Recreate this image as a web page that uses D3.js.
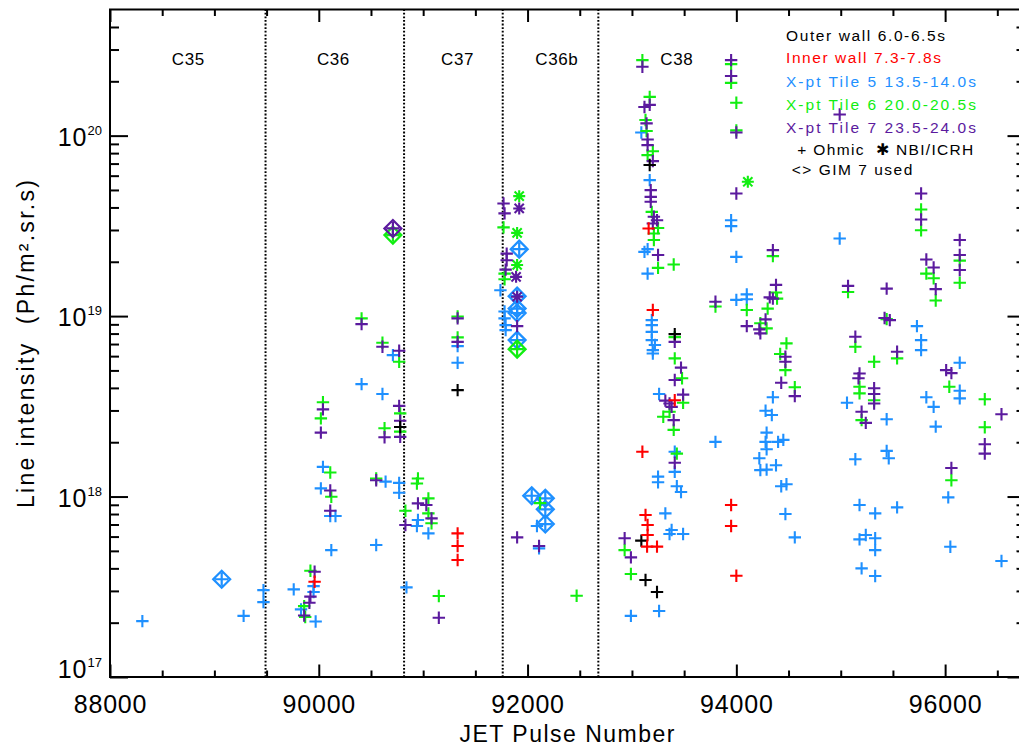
<!DOCTYPE html>
<html><head><meta charset="utf-8">
<script src="https://cdn.jsdelivr.net/npm/d3@7"></script>
<style>body{margin:0;background:#fff}text{white-space:pre}</style>
</head><body><svg id="c" width="1019" height="748"></svg>
<script>
// ---------------- data ----------------
const pulseRange = [88000, 96770];
const intensityRange = [1e17, 5e20];
const xMajorTicks = [88000, 90000, 92000, 94000, 96000];
const yMajorTicks = [1e17, 1e18, 1e19, 1e20];
const campaignLabels = ["C35", "C36", "C37", "C36b", "C38"];
const campaignLabelPulse = [88750, 90140, 91330, 92280, 93430];
const campaignBoundaries = [89490, 90817, 91762, 92678];
const legendLabels = ["Outer wall 6.0-6.5s", "Inner wall 7.3-7.8s", "X-pt Tile 5 13.5-14.0s", "X-pt Tile 6 20.0-20.5s", "X-pt Tile 7 23.5-24.0s"];
const markerLegend = ["+ Ohmic  \u2731 NBI/ICRH", "<> GIM 7 used"];
const xTitle = "JET Pulse Number";
const yTitle = "Line intensity  (Ph/m\u00B2.sr.s)";

const outerOhmic = [[90780,2.43e18],[91330,3.89e18],[93170,6.87e19],[93410,7.94e18],[93090,5.70e17],[93130,3.45e17],[93240,2.96e17]];
const innerOhmic = [[89960,3.37e17],[91330,6.25e17],[91330,5.32e17],[91330,4.45e17],[93200,1.08e19],[93410,3.42e18],[93100,1.77e18],[93130,7.90e17],[93150,6.95e17],[93150,6.12e17],[93145,5.28e17],[93240,5.28e17],[93160,3.06e19],[93950,8.97e17],[93950,6.87e17],[94000,3.64e17]];
const tile5Ohmic = [
[88310,2.04e17],[89280,2.18e17],[89470,3.03e17],[89470,2.60e17],[89760,3.06e17],[89830,2.37e17],[89950,3.19e17],[89950,2.96e17],[89970,2.03e17],[90020,1.11e18],[90110,7.80e17],[90160,7.80e17],[90120,5.05e17],[90040,1.46e18],
[90410,4.20e18],[90610,3.70e18],[90710,6.08e18],[90640,1.21e18],[90770,1.19e18],[90770,1.05e18],[90550,5.39e17],[90840,3.14e17],[90950,7.41e17],[90940,6.87e17],[91050,6.25e17],
[91330,6.82e18],[91330,5.51e18],
[91740,1.39e19],[91780,1.06e19],[91780,9.71e18],[91790,8.91e18],[91790,8.36e18],[92090,6.87e17],[92110,5.16e17],
[93090,1.04e20],[93170,5.67e19],[93120,2.27e19],[93150,2.35e19],[93150,1.72e19],[93190,9.50e18],[93190,8.91e18],[93190,8.18e18],[93190,7.36e18],[93220,6.91e18],[93200,6.48e18],[93200,6.21e18],[93260,3.70e18],[93410,1.77e18],[93410,1.37e18],[93250,1.29e18],[93250,1.20e18],[93430,1.14e18],[93470,1.06e18],[93320,8.07e17],[93380,6.52e17],[93360,6.20e17],[93490,6.20e17],[93260,2.32e17],[92990,2.18e17],
[93800,2.01e18],[93950,3.40e19],[93950,3.15e19],[94000,2.13e19],[94000,1.23e19],[94100,1.32e19],[94100,1.24e19],
[94350,3.55e18],[94280,2.99e18],[94340,2.83e18],[94290,2.26e18],[94280,2.01e18],[94290,1.83e18],[94400,2.01e18],[94450,2.06e18],[94220,1.63e18],[94230,1.40e18],[94290,1.41e18],[94380,1.49e18],[94430,1.14e18],[94480,1.17e18],[94470,8.00e17],[94560,5.94e17],
[94990,2.69e19],[95730,8.80e18],[95770,7.36e18],[95770,6.48e18],[95060,3.31e18],[95440,2.68e18],[95140,1.61e18],[95440,1.79e18],[95460,1.63e18],[95820,3.55e18],[95890,3.14e18],[95910,2.44e18],[96140,5.51e18],[96140,3.86e18],[96140,3.50e18],
[95180,8.97e17],[95330,8.07e17],[95540,8.71e17],[95180,5.79e17],[95240,6.12e17],[95330,5.87e17],[95330,5.05e17],[95200,4.00e17],[95330,3.63e17],[96030,9.90e17],[96050,5.27e17],[96540,4.39e17]
];
const tile5Gim = [[89070,3.48e17],[91920,2.35e19],[91900,1.29e19],[91900,1.10e19],[91900,1.04e19],[91900,7.36e18],[92040,1.01e18],[92170,9.77e17],[92170,8.49e17],[92170,7.04e17]];
const tile6Ohmic = [
[89860,2.47e17],[89870,2.15e17],[89920,3.88e17],[90120,9.97e17],[90040,3.33e18],[90020,2.71e18],[90110,1.36e18],
[90410,9.71e18],[90610,7.11e18],[90770,5.58e18],[90780,2.89e18],[90630,2.39e18],[90780,2.29e18],[90550,1.26e18],[90950,1.26e18],[90940,1.18e18],[90830,8.35e17],[91050,9.77e17],[91050,8.07e17],[91080,7.11e17],[91150,2.81e17],
[91330,9.94e18],[91330,7.62e18],
[91770,3.10e19],[91780,1.72e19],[91780,1.60e19],[92120,9.20e17],[92470,2.82e17],
[93100,2.62e20],[93170,1.64e20],[93130,1.22e20],[93140,1.06e20],[93200,8.20e19],[93150,7.80e19],[93190,3.78e19],[93250,3.08e19],[93210,2.87e19],[93210,2.64e19],[93250,1.85e19],[93400,1.93e19],
[93300,2.77e18],[93410,7.65e18],[93410,5.83e18],[93480,4.52e18],[93490,3.31e18],[93360,2.95e18],[93400,2.34e18],[93430,1.73e18],[92930,5.05e17],[92990,3.72e17],
[93800,1.13e19],[93950,2.49e20],[93950,1.96e20],[94000,1.52e20],[94000,1.07e20],[94100,1.08e19],
[94350,2.15e19],[94380,1.35e19],[94390,1.25e19],[94300,1.10e19],[94230,9.12e18],[94290,8.55e18],[94480,7.06e18],[94420,6.16e18],[94470,5.02e18],[94560,4.03e18],
[95070,1.36e19],[95440,9.62e18],[95140,6.76e18],[95320,5.58e18],[95540,5.83e18],[95180,4.06e18],[95180,3.73e18],[95320,3.42e18],[95200,2.65e18],
[95820,1.72e19],[95890,1.62e19],[95910,1.22e19],[96140,2.03e19],[96140,1.53e19],[96040,4.06e18],[96380,3.46e18],[96380,2.42e18],[96060,1.23e18],[95770,3.90e19],[95770,2.99e19]
];
const tile6Nbi = [[91920,4.62e19],[91900,2.89e19],[91900,1.92e19],[94110,5.55e19]];
const tile6Gim = [[90710,2.81e19],[91900,6.56e18]];
const tile7Ohmic = [
[89860,2.19e17],[89910,2.58e17],[89920,2.79e17],[89960,3.83e17],[90110,1.08e18],[90110,8.35e17],[90040,3.04e18],[90020,2.26e18],
[90410,9.03e18],[90610,6.76e18],[90770,6.42e18],[90770,3.18e18],[90780,2.63e18],[90630,2.13e18],[90780,2.14e18],[90550,1.23e18],[90830,6.95e17],[90950,9.17e17],[91030,8.97e17],[91080,7.57e17],[91150,2.13e17],
[91330,9.71e18],[91330,7.20e18],
[91770,4.21e19],[91780,3.71e19],[91800,2.22e19],[91800,2.04e19],[91790,1.81e19],[91900,8.80e18],[91900,5.94e17],[92110,5.32e17],
[93100,2.41e20],[93120,1.44e20],[93170,1.48e20],[93140,1.17e20],[93150,9.52e19],[93150,8.86e19],[93200,7.22e19],[93180,4.99e19],[93180,4.58e19],[93180,4.30e19],[93210,3.55e19],[93240,3.40e19],[93200,3.26e19],[93250,2.18e19],
[93410,7.20e18],[93470,5.18e18],[93410,4.42e18],[93490,3.67e18],[93320,3.40e18],[93360,3.28e18],[93380,3.14e18],[93400,2.65e18],[93410,1.54e18],[92930,5.87e17],[92990,4.60e17],
[93800,1.20e19],[93950,2.62e20],[93950,2.14e20],[94000,1.04e20],[94000,4.78e19],
[94350,2.32e19],[94380,1.49e19],[94320,1.27e19],[94350,1.25e19],[94100,8.80e18],[94280,9.59e18],[94220,8.44e18],[94230,8.02e18],[94470,5.95e18],[94470,5.58e18],[94430,4.27e18],[94560,3.60e18],
[94990,1.31e20],[95070,1.47e19],[95440,1.42e19],[95420,9.75e18],[95470,9.50e18],[95140,7.68e18],[95540,6.34e18],[95180,4.81e18],[95170,4.52e18],[95320,3.98e18],[95320,3.70e18],[95320,3.28e18],[95200,2.95e18],[95240,2.56e18],
[95820,2.06e19],[95890,1.86e19],[95910,1.41e19],[95770,4.78e19],[95770,3.43e19],[96140,2.64e19],[96140,2.18e19],[96140,1.80e19],[96010,5.02e18],[96060,4.83e18],[96540,2.86e18],[96380,1.95e18],[96380,1.73e18],[96060,1.44e18]
];
const tile7Nbi = [[91920,3.95e19],[91890,1.65e19],[91900,1.28e19]];
const tile7Gim = [[90710,3.06e19]];

// ---------------- drawing ----------------
const FONT = "'Liberation Sans', Arial, Helvetica, sans-serif";
const COL = {outer:'#000000', inner:'#ff0000', t5:'#1e90ff', t6:'#11ee11', t7:'#5b1a9e'};
const svg = d3.select('#c');
const x = d3.scaleLinear().domain(pulseRange).range([110, 1025.5]);
const y = d3.scaleLog().domain(intensityRange).range([677, 9.5]);
const [x0, x1] = x.range(), [yb, yt] = y.range();

// campaign boundaries
svg.append('g').selectAll('line').data(campaignBoundaries).join('line')
  .attr('x1', d => x(d)).attr('x2', d => x(d)).attr('y1', yb).attr('y2', yt)
  .attr('stroke', '#000').attr('stroke-width', 2).attr('stroke-dasharray', '1.8,1.8');

svg.append('g').selectAll('text').data(campaignLabels).join('text')
  .attr('x', (d, i) => x(campaignLabelPulse[i])).attr('y', 65).attr('text-anchor', 'middle')
  .attr('font-family', FONT).attr('font-size', 17).attr('letter-spacing', 0.6).text(d => d);

// markers
const gm = svg.append('g');
const plusP = (cx, cy, r) => `M${cx - r},${cy}H${cx + r}M${cx},${cy - r}V${cy + r}`;
const crossP = (cx, cy, r) => `M${cx - r},${cy - r}L${cx + r},${cy + r}M${cx - r},${cy + r}L${cx + r},${cy - r}`;
const diaP = (cx, cy, r) => `M${cx},${cy - r}L${cx + r},${cy}L${cx},${cy + r}L${cx - r},${cy}Z`;
function draw(data, color, kind) {
  gm.append('g').selectAll('path').data(data).join('path')
    .attr('d', d => {
      const cx = x(d[0]), cy = y(d[1]);
      if (kind === 'nbi') return plusP(cx, cy, 6) + crossP(cx, cy, 4.6);
      if (kind === 'gim') return diaP(cx, cy, 8.5) + plusP(cx, cy, 6.5);
      return plusP(cx, cy, 6.2);
    })
    .attr('fill', 'none').attr('stroke', color)
    .attr('stroke-width', kind === 'gim' ? 2.2 : 2.1);
}
draw(tile5Ohmic, COL.t5, 'ohmic');
draw(tile5Gim, COL.t5, 'gim');
draw(tile6Ohmic, COL.t6, 'ohmic');
draw(tile6Nbi, COL.t6, 'nbi');
draw(tile6Gim, COL.t6, 'gim');
draw(tile7Ohmic, COL.t7, 'ohmic');
draw(tile7Nbi, COL.t7, 'nbi');
draw(tile7Gim, COL.t7, 'gim');
draw(outerOhmic, COL.outer, 'ohmic');
draw(innerOhmic, COL.inner, 'ohmic');

// legend
const legColors = [COL.outer, COL.inner, COL.t5, COL.t6, COL.t7];
const legBase = [40.7, 63.3, 86.7, 110, 132.7];
const legW = [159, 155, 190, 190, 190];
const gl = svg.append('g').attr('font-family', FONT).attr('font-size', 15.5);
gl.selectAll('text.s').data(legendLabels).join('text').attr('class', 's')
  .attr('x', 786).attr('y', (d, i) => legBase[i]).attr('fill', (d, i) => legColors[i])
  .attr('textLength', (d, i) => legW[i]).attr('lengthAdjust', 'spacing').text(d => d);
gl.selectAll('text.m').data(markerLegend).join('text').attr('class', 'm')
  .attr('x', (d, i) => [797.3, 791.7][i]).attr('y', (d, i) => [155.3, 175][i])
  .attr('textLength', (d, i) => [176, 120.6][i]).attr('lengthAdjust', 'spacing').text(d => d);

// axes
const xMinor = d3.range(88000, pulseRange[1], 500).filter(v => !xMajorTicks.includes(v));
const yMinor = [];
for (let k = 17; k <= 20; k++) for (let m = 2; m <= 9; m++) { const v = m * Math.pow(10, k); if (v < intensityRange[1]) yMinor.push(v); }
function styleAxis(g) { g.select('.domain').remove(); g.selectAll('line').attr('stroke', '#000').attr('stroke-width', 2); }
svg.append('g').attr('transform', `translate(0,${yb})`).call(d3.axisBottom(x).tickValues(xMinor).tickSize(-6.5).tickFormat('')).call(styleAxis);
svg.append('g').attr('transform', `translate(0,${yt})`).call(d3.axisTop(x).tickValues(xMinor).tickSize(-6.5).tickFormat('')).call(styleAxis);
svg.append('g').attr('transform', `translate(0,${yt})`).call(d3.axisTop(x).tickValues(xMajorTicks).tickSize(-12.5).tickFormat('')).call(styleAxis);
const xb = svg.append('g').attr('transform', `translate(0,${yb})`)
  .call(d3.axisBottom(x).tickValues(xMajorTicks).tickSize(-12.5).tickPadding(18.5).tickFormat(d3.format('d'))).call(styleAxis);
xb.selectAll('text').attr('font-family', FONT).attr('font-size', 25).attr('letter-spacing', 0.8).attr('fill', '#000');

svg.append('g').attr('transform', `translate(${x0},0)`).call(d3.axisLeft(y).tickValues(yMinor).tickSize(-9).tickFormat('')).call(styleAxis);
svg.append('g').attr('transform', `translate(${x0},0)`).call(d3.axisLeft(y).tickValues(yMajorTicks).tickSize(-18).tickFormat('')).call(styleAxis);
svg.append('g').attr('transform', `translate(${x1},0)`).call(d3.axisRight(y).tickValues(yMinor).tickSize(-9).tickFormat('')).call(styleAxis);
svg.append('g').attr('transform', `translate(${x1},0)`).call(d3.axisRight(y).tickValues(yMajorTicks).tickSize(-18).tickFormat('')).call(styleAxis);

svg.append('rect').attr('x', x0).attr('y', yt).attr('width', x1 - x0).attr('height', yb - yt)
  .attr('fill', 'none').attr('stroke', '#000').attr('stroke-width', 2);

// y tick labels 10^n
const gy = svg.append('g').attr('font-family', FONT);
yMajorTicks.forEach((v, i) => {
  const t = gy.append('text').attr('x', 102).attr('y', y(v) + (i === 0 ? 1 : 10))
    .attr('text-anchor', 'end').attr('font-size', 25);
  t.append('tspan').attr('letter-spacing', 1).text('10');
  t.append('tspan').attr('dy', -11).attr('font-size', 13).text(String(Math.round(Math.log10(v))));
});

// titles
svg.append('text').attr('x', 567).attr('y', 742).attr('text-anchor', 'middle')
  .attr('font-family', FONT).attr('font-size', 23).attr('textLength', 215).attr('lengthAdjust', 'spacing').text(xTitle);
svg.append('text').attr('transform', 'translate(34,344) rotate(-90)').attr('text-anchor', 'middle')
  .attr('font-family', FONT).attr('font-size', 23).attr('textLength', 328).attr('lengthAdjust', 'spacing').text(yTitle);
</script>
</body></html>
